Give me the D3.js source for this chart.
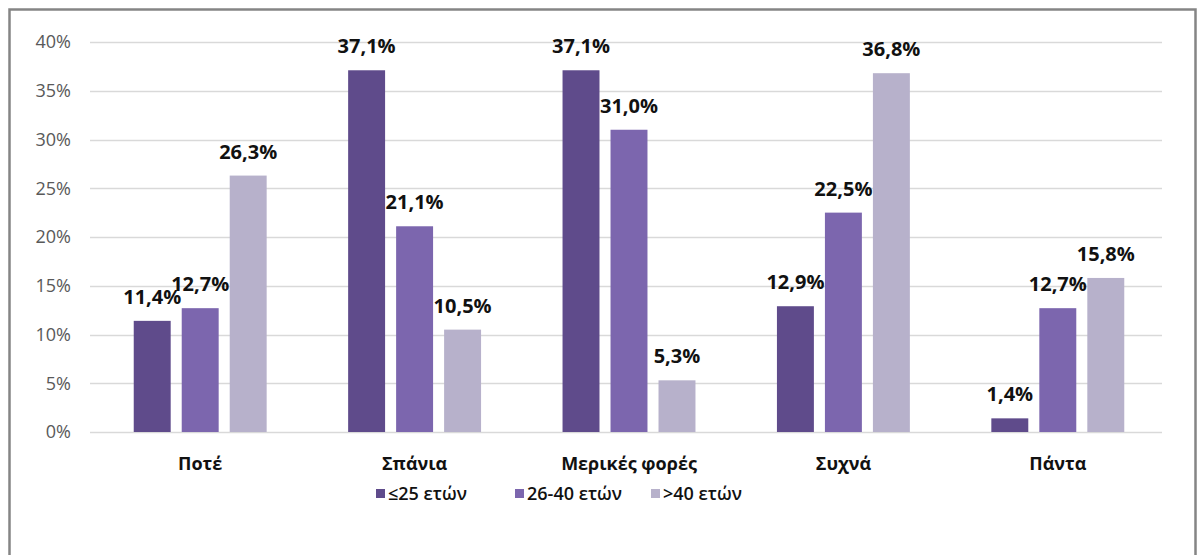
<!DOCTYPE html>
<html>
<head>
<meta charset="utf-8">
<script src="https://cdn.jsdelivr.net/npm/d3@7"></script>
<style>
  body { margin: 0; background: #fff; }
  text { font-family: "Open Sans", "Noto Sans", sans-serif; }
</style>
</head>
<body>
<div id="chart"></div>
<script>
// Chart data
const categories = ["Ποτέ", "Σπάνια", "Μερικές φορές", "Συχνά", "Πάντα"];
const seriesNames = ["≤25 ετών", "26-40 ετών", ">40 ετών"];
const young = [11.4, 37.1, 37.1, 12.9, 1.4];
const middle = [12.7, 21.1, 31.0, 22.5, 12.7];
const older = [26.3, 10.5, 5.3, 36.8, 15.8];
const yTicks = [0, 5, 10, 15, 20, 25, 30, 35, 40];

const seriesValues = [young, middle, older];
const colors = ["#5f4b8b", "#7c66ae", "#b7b1cb"];

const width = 1197;
const height = 555;
const margin = { left: 93, right: 32, top: 42, bottom: 123 };

const svg = d3.select("#chart")
    .append("svg")
    .attr("width", width)
    .attr("height", height);

// Outer frame (bottom edge runs off the picture)
svg.append("rect")
    .attr("x", 9.5)
    .attr("y", 9.5)
    .attr("width", 1186)
    .attr("height", 560)
    .attr("fill", "none")
    .attr("stroke", "#858585")
    .attr("stroke-width", 2.5);

const x0 = d3.scaleBand()
    .domain(categories)
    .range([margin.left, width - margin.right])
    .paddingInner(0.38)
    .paddingOuter(0.19);

// bars inside a group: no outer padding
const x1 = d3.scaleBand()
    .domain(d3.range(seriesNames.length))
    .range([0, x0.bandwidth()])
    .paddingInner(0.23)
    .paddingOuter(0);

const y = d3.scaleLinear()
    .domain([0, 40])
    .range([height - margin.bottom, margin.top]);

// Gridlines
svg.append("g")
    .selectAll("line")
    .data(yTicks)
    .join("line")
    .attr("x1", 90)
    .attr("x2", 1162)
    .attr("y1", d => Math.round(y(d)) + 0.5)
    .attr("y2", d => Math.round(y(d)) + 0.5)
    .attr("stroke", "#d9d9d9")
    .attr("stroke-width", 1.5);

// Y axis labels
const yAxis = svg.append("g")
    .attr("transform", `translate(71,0)`)
    .call(d3.axisLeft(y).tickValues(yTicks).tickSize(0).tickPadding(0).tickFormat(d => d + "%"));
yAxis.select(".domain").remove();
yAxis.selectAll("text")
    .attr("font-size", "18px")
    .attr("fill", "#595959")
    .attr("font-family", "'Open Sans', sans-serif");

// Bars
const rows = categories.map((c, i) => ({ cat: c, vals: seriesValues.map(s => s[i]) }));

const groups = svg.append("g")
    .selectAll("g")
    .data(rows)
    .join("g")
    .attr("transform", d => `translate(${x0(d.cat)},0)`);

groups.selectAll("rect")
    .data(d => d.vals.map((v, k) => ({ v, k })))
    .join("rect")
    .attr("x", d => x1(d.k))
    .attr("y", d => y(d.v))
    .attr("width", x1.bandwidth())
    .attr("height", d => y(0) - y(d.v))
    .attr("fill", d => colors[d.k]);

// Value labels
groups.selectAll("text")
    .data(d => d.vals.map((v, k) => ({ v, k })))
    .join("text")
    .attr("x", d => x1(d.k) + x1.bandwidth() / 2)
    .attr("y", d => y(d.v) - 17)
    .attr("text-anchor", "middle")
    .attr("font-size", "20px")
    .attr("font-weight", "bold")
    .attr("fill", "#111")
    .text(d => d.v.toFixed(1).replace(".", ",") + "%");

// Category labels
svg.append("g")
    .selectAll("text")
    .data(categories)
    .join("text")
    .attr("x", d => x0(d) + x0.bandwidth() / 2)
    .attr("y", 470)
    .attr("text-anchor", "middle")
    .attr("font-size", "18px")
    .attr("font-weight", "bold")
    .attr("fill", "#111")
    .text(d => d);

// Legend
const legendX = [376, 515, 651];
const legend = svg.append("g")
    .selectAll("g")
    .data(seriesNames)
    .join("g")
    .attr("transform", (d, i) => `translate(${legendX[i]},493)`);

legend.append("rect")
    .attr("x", 0)
    .attr("y", -4)
    .attr("width", 9)
    .attr("height", 9)
    .attr("fill", (d, i) => colors[i]);

legend.append("text")
    .attr("x", 12)
    .attr("y", 7)
    .attr("font-size", "18px")
    .attr("font-weight", "600")
    .attr("fill", "#111")
    .text(d => d);
</script>
</body>
</html>
